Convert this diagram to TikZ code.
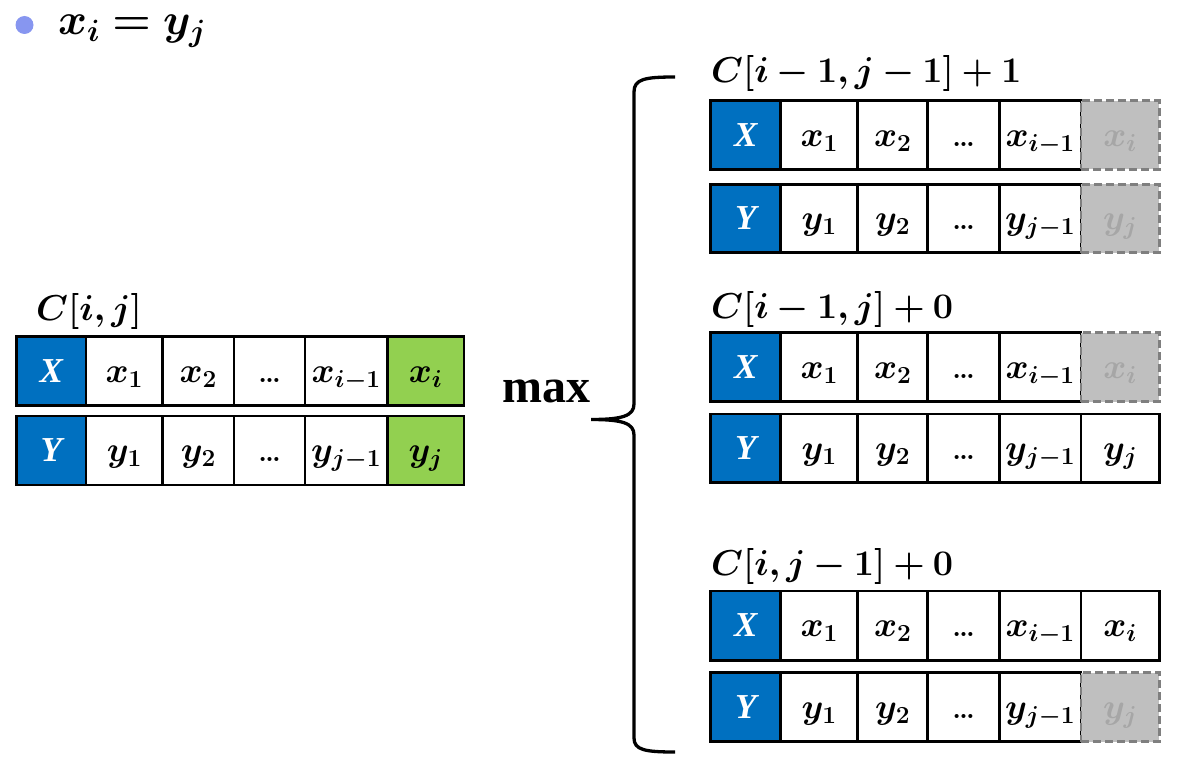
\RequirePackage{fix-cm}
\documentclass[tikz,border=0pt]{standalone}
\usepackage{fontspec}
\usepackage{bm}
\newfontfamily\timesfont{Liberation Serif}
\definecolor{cellblue}{RGB}{0,112,192}
\definecolor{cellgreen}{RGB}{146,208,80}
\definecolor{ghostfill}{RGB}{191,191,191}
\definecolor{ghostline}{RGB}{127,127,127}
\definecolor{ghosttext}{RGB}{166,166,166}
\definecolor{bulletblue}{RGB}{135,150,240}
\tikzset{
  cellbox/.style={draw=black, line width=2.5pt, inner sep=0pt, fill=white,
    text height=24pt, text depth=2pt, font=\fontsize{35}{40}\selectfont},
  namebox/.style={fill=cellblue, text=white, font=\timesfont\bfseries\itshape\fontsize{35}{40}\selectfont},
  hitbox/.style={fill=cellgreen},
  plainbox/.style={},
  ghostbox/.style={fill=ghostfill, draw=ghostline, dash pattern=on 8pt off 4pt, text=ghosttext},
  labeltext/.style={anchor=base west, inner sep=0pt, font=\fontsize{36}{40}\selectfont},
}
\newcommand\cellat[7]{\node[#6, minimum width={#3-#2}, minimum height={#5-#4}] (#1) at ({(#2+#3)/2},{(#4+#5)/2}) {#7};}
\newcommand\dotstext{{\fontsize{28}{28}\selectfont\bfseries\ldots}}
% #1 prefix, #2 top, #3 bottom, #4 letter, #5 variable, #6 index, #7 style of last cell
\newcommand\datarow[7]{%
  \cellat{#1a}{\ca}{\cb}{#2}{#3}{cellbox,namebox}{#4}
  \cellat{#1b}{\cb}{\cc}{#2}{#3}{cellbox}{$\bm{#5_1}$}
  \cellat{#1c}{\cc}{\cd}{#2}{#3}{cellbox}{$\bm{#5_2}$}
  \cellat{#1d}{\cd}{\ce}{#2}{#3}{cellbox}{\dotstext}
  \cellat{#1e}{\ce}{\cf}{#2}{#3}{cellbox}{$\bm{#5_{#6-1}}$}
  \cellat{#1f}{\cf}{\cg}{#2}{#3}{cellbox,#7}{$\bm{#5_{#6}}$}
}
\begin{document}
\begin{tikzpicture}[x=1pt,y=-1pt]
\useasboundingbox (0,0) rectangle (1181,768);
% title
\fill[bulletblue] (24.5,25) circle (9);
\node[anchor=base west, inner sep=0pt, font=\fontsize{44}{50}\selectfont] (title) at (58,35) {$\bm{x_i = y_j}$};
% left block
\def\ca{16.7}\def\cb{86}\def\cc{162.7}\def\cd{234}\def\ce{305}\def\cf{387.3}\def\cg{464}
\node[labeltext] (lbl0) at (36,320) {$\bm{C[i,j]}$};
\datarow{Lx}{336.7}{405.7}{X}{x}{i}{hitbox}
\datarow{Ly}{416}{485}{Y}{y}{j}{hitbox}
% max and brace
\node[anchor=base west, inner sep=0pt, font=\timesfont\bfseries\fontsize{48}{48}\selectfont] (max) at (502,402.3) {max};
\coordinate (bt) at (675,77);
\coordinate (bc) at (591,419.5);
\coordinate (bb) at (675,752);
\draw[line width=3.3pt] (bt) .. controls (645,77) and (634,79) .. (634,92)
  -- (634,404) .. controls (634,416) and (622,419.5) .. (bc)
  .. controls (622,419.5) and (634,423) .. (634,435)
  -- (634,738) .. controls (634,750) and (645,752) .. (bb);
% right blocks
\def\ca{710.7}\def\cb{780.7}\def\cc{857.7}\def\cd{927.7}\def\ce{999.3}\def\cf{1081}\def\cg{1159.3}
\node[labeltext] (lbl1) at (711,83) {$\bm{C[i-1,j-1]+1}$};
\datarow{Ax}{100.7}{169.3}{X}{x}{i}{ghostbox}
\datarow{Ay}{184.3}{252.7}{Y}{y}{j}{ghostbox}
\node[labeltext] (lbl2) at (711,318) {$\bm{C[i-1,j]+0}$};
\datarow{Bx}{332.7}{401.7}{X}{x}{i}{ghostbox}
\datarow{By}{414}{482.3}{Y}{y}{j}{plainbox}
\node[labeltext] (lbl3) at (711,575) {$\bm{C[i,j-1]+0}$};
\datarow{Cx}{591}{660.3}{X}{x}{i}{plainbox}
\datarow{Cy}{672.7}{741.7}{Y}{y}{j}{ghostbox}
\end{tikzpicture}
\end{document}
